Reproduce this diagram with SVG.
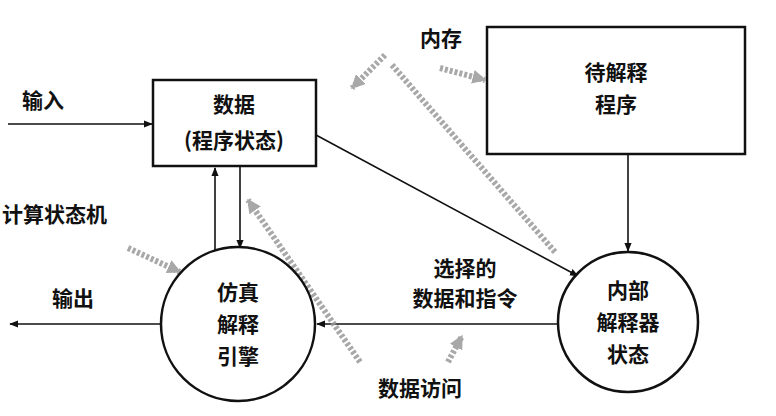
<svg xmlns="http://www.w3.org/2000/svg" width="776" height="416" viewBox="0 0 776 416">
<style>
text{font-family:"Noto Sans CJK SC","Liberation Sans",sans-serif;font-size:21px;fill:#111;font-weight:bold}
.n{fill:#fff;stroke:#111;stroke-width:2.5}
.c{fill:none;stroke:#111;stroke-width:1.6}
.g{fill:none;stroke:#999;stroke-width:6;stroke-dasharray:3 2;opacity:.85}
</style>
<defs>
<marker id="a" viewBox="0 0 10 10" refX="9" refY="5" markerWidth="9" markerHeight="9" orient="auto" markerUnits="userSpaceOnUse"><path d="M0,1 L10,5 L0,9 Z" fill="#111"/></marker>
<marker id="ga" viewBox="0 0 10 10" refX="9" refY="5" markerWidth="14" markerHeight="14" orient="auto" markerUnits="userSpaceOnUse"><path d="M0,0 L10,5 L0,10 Z" fill="#999"/></marker>
</defs>
<g id="connectors">
<line class="c" x1="8" y1="124" x2="152" y2="124" marker-end="url(#a)"/>
<line class="c" x1="215" y1="250" x2="215" y2="168" marker-end="url(#a)"/>
<line class="c" x1="240" y1="166" x2="240" y2="248" marker-end="url(#a)"/>
<line class="c" x1="316" y1="135" x2="578" y2="276" marker-end="url(#a)"/>
<line class="c" x1="628" y1="154" x2="628" y2="251" marker-end="url(#a)"/>
<line class="c" x1="558" y1="324" x2="317" y2="324" marker-end="url(#a)"/>
<line class="c" x1="160" y1="324" x2="10" y2="324" marker-end="url(#a)"/>
<line class="g" x1="385" y1="55" x2="352" y2="88" marker-end="url(#ga)"/>
<line class="g" x1="440" y1="68" x2="485" y2="80" marker-end="url(#ga)"/>
<line class="g" x1="392" y1="65" x2="555" y2="252"/>
<line class="g" x1="128" y1="248" x2="180" y2="272" marker-end="url(#ga)"/>
<line class="g" x1="360" y1="362" x2="248" y2="200" marker-end="url(#ga)"/>
<line class="g" x1="448" y1="362" x2="462" y2="336" marker-end="url(#ga)"/>
</g>
<g id="data"><rect class="n" x="153" y="80" width="163" height="86"/><text x="234" y="112" text-anchor="middle">数据</text><text x="234" y="148" text-anchor="middle">(程序状态)</text></g>
<g id="program"><rect class="n" x="487" y="27" width="258" height="127" stroke-width="3"/><text x="616" y="80" text-anchor="middle">待解释</text><text x="616" y="112" text-anchor="middle">程序</text></g>
<g id="engine"><circle class="n" cx="238" cy="324" r="77" fill="none"/><text x="238" y="300" text-anchor="middle">仿真</text><text x="238" y="332" text-anchor="middle">解释</text><text x="238" y="364" text-anchor="middle">引擎</text></g>
<g id="state"><circle class="n" cx="628" cy="322" r="70"/><text x="628" y="298" text-anchor="middle">内部</text><text x="628" y="330" text-anchor="middle">解释器</text><text x="628" y="362" text-anchor="middle">状态</text></g>
<g id="labels">
<text x="22" y="108">输入</text>
<text x="420" y="46">内存</text>
<text x="2" y="222">计算状态机</text>
<text x="52" y="306">输出</text>
<text x="465" y="276" text-anchor="middle">选择的</text>
<text x="465" y="306" text-anchor="middle">数据和指令</text>
<text x="420" y="396" text-anchor="middle">数据访问</text>
</g>
</svg>
